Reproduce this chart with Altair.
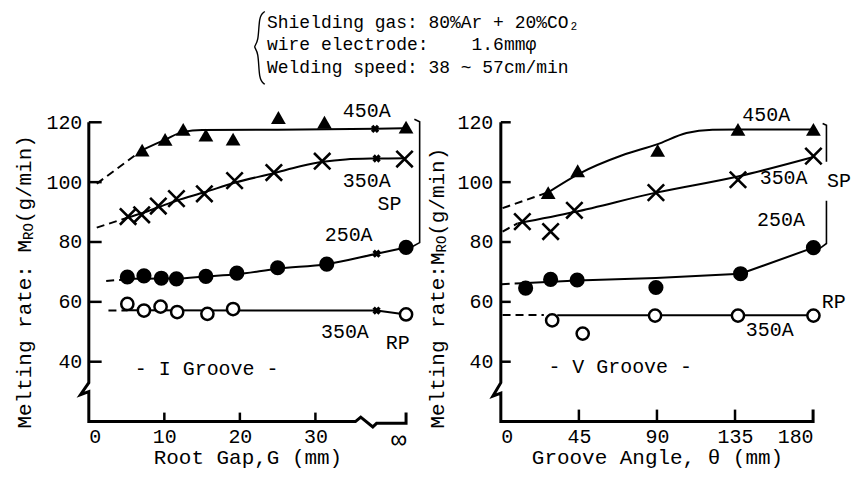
import altair as alt
import pandas as pd

FONT = "Liberation Mono"
NB = "\u00a0"

# ---------------- header (drawn in left panel's data space) ----------------
header_text = ["Shielding gas: 80%Ar + 20%CO₂",
               "wire electrode:" + NB * 4 + "1.6mmφ",
               "Welding speed: 38 ~ 57cm/min"]
header_x = [23.6, 23.6, 23.6]
header_y = [153.3, 145.7, 138.0]
brace_x = [23.3, 22.5, 22.5, 21.7, 22.5, 22.5, 23.3]
brace_y = [157.0, 155.6, 146.6, 145.2, 143.8, 134.1, 132.7]

# ---------------- left panel: I groove (x = root gap, 42 stands for ∞) ----------------
L_tri_x = [7.06, 10.1, 12.5, 15.5, 19.1, 25.1, 31.2, 42]
L_tri_y = [110.7, 114.3, 117.6, 115.7, 114.4, 121.6, 120.0, 118.4]
L_x_x = [5.2, 7.0, 9.2, 11.6, 15.3, 19.3, 24.5, 30.9, 41.8]
L_x_y = [88.5, 89.1, 92.0, 94.5, 96.1, 100.5, 103.2, 107.0, 107.7]
L_dot_x = [5.1, 7.3, 9.6, 11.6, 15.5, 19.6, 25.0, 31.5, 42]
L_dot_y = [68.3, 68.7, 67.9, 67.7, 68.5, 69.6, 71.4, 72.6, 78.2]
L_ring_x = [5.1, 7.3, 9.5, 11.7, 15.7, 19.1, 42]
L_ring_y = [59.3, 57.1, 58.4, 56.6, 56.0, 57.6, 55.8]
L_star_x = [37.9, 38.1, 38.1, 38.1]
L_star_y = [117.8, 107.9, 76.1, 57.1]

L_450_x = [7.06, 10.1, 12.5, 15.0, 25.0, 38.0, 42.0]
L_450_y = [110.7, 114.2, 116.8, 117.4, 117.5, 117.8, 118.0]
L_450d_x = [1.05, 7.06]
L_450d_y = [99.5, 110.7]
L_sp_x = [5.2, 7.0, 9.2, 11.6, 15.3, 19.3, 24.5, 28.0, 31.0, 34.0, 38.0, 42.0]
L_sp_y = [88.2, 89.6, 91.6, 93.8, 96.6, 99.8, 103.0, 105.3, 106.8, 107.6, 107.9, 108.0]
L_spd_x = [1.05, 5.2]
L_spd_y = [84.8, 88.2]
L_250_x = [5.1, 11.6, 15.5, 19.6, 25.0, 31.5, 38.1, 42.0]
L_250_y = [67.7, 67.8, 68.5, 69.2, 71.1, 72.6, 76.1, 78.2]
L_250d_x = [2.3, 5.1]
L_250d_y = [67.0, 67.5]
L_rp_x = [5.1, 38.1, 42.0]
L_rp_y = [57.2, 57.1, 55.8]
L_rpd_x = [2.6, 5.1]
L_rpd_y = [57.1, 57.1]

L_lab_t = ["450A", "350A", "SP", "250A", "350A", "RP", "- I Groove -"]
L_lab_x = [36.8, 36.8, 39.8, 34.4, 33.9, 40.9, 15.6]
L_lab_y = [123.7, 100.4, 92.8, 82.5, 50.0, 46.2, 37.5]
L_br_x = [43.1, 43.8, 43.8, 42.8]
L_br_y = [121.0, 120.2, 79.8, 78.4]
L_br_s = [0, 0, 0, 0]
L_axis_x = [0, 0, -1.1, 0, 0, 35.3, 36.0, 37.6, 38.1, 42, 42]
L_axis_y = [120, 33, 29.0, 30.0, 20, 20, 21.5, 18.2, 19.4, 19.4, 23]
L_xtick = [10, 20, 30]
L_title_t = ["Melting rate: M", "(g/min)"]
L_title_x = [-8.5, -8.5]
L_title_y = [17.7, 86.3]
L_sub_x = [-7.97]
L_sub_y = [80.7]

# ---------------- right panel: V groove (x = groove angle) ----------------
R_tri_x = [27.3, 44.3, 90.4, 136.7, 180.2]
R_tri_y = [96.5, 103.8, 110.6, 117.6, 117.6]
R_x_x = [12.4, 28.7, 42.4, 89.4, 136.7, 180.2]
R_x_y = [86.8, 83.5, 90.6, 96.5, 100.8, 108.7]
R_dot_x = [14.3, 28.7, 44.0, 89.4, 138.2, 180.2]
R_dot_y = [64.6, 67.5, 67.3, 64.8, 69.4, 78.1]
R_ring_x = [29.6, 47.2, 88.9, 136.7, 180.2]
R_ring_y = [53.8, 49.4, 55.4, 55.4, 55.4]

R_450_x = [27.3, 45, 70, 90, 107, 122, 137, 180]
R_450_y = [96.6, 102.8, 109.0, 112.6, 116.4, 117.5, 117.6, 117.6]
R_450d_x = [1.0, 27.3]
R_450d_y = [91.3, 96.6]
R_sp_x = [9.6, 42.4, 89.4, 136.7, 180.2]
R_sp_y = [86.2, 90.0, 96.5, 101.9, 108.4]
R_spd_x = [1.0, 9.6]
R_spd_y = [83.5, 86.2]
R_250_x = [12.0, 44.0, 89.4, 138.2, 180.2]
R_250_y = [66.2, 67.1, 68.0, 69.4, 78.1]
R_250d_x = [0.5, 12.0]
R_250d_y = [65.9, 66.2]
R_rp_x = [32.5, 180.2]
R_rp_y = [55.5, 55.5]
R_rpd_x = [1.0, 24.8]
R_rpd_y = [55.6, 55.6]

R_lab_t = ["450A", "350A", "250A", "350A", "- V Groove -"]
R_lab_x = [153, 163, 161.5, 155, 68.8]
R_lab_y = [122.5, 101.4, 87.3, 50.5, 38.1]
R_labl_t = ["SP", "RP"]
R_labl_x = [188.0, 185.0]
R_labl_y = [100.3, 60.0]
R_br_x = [185.5, 187.7, 187.7, 187.7, 187.7, 183.9]
R_br_y = [119.6, 119.0, 106.8, 93.8, 79.5, 77.9]
R_br_s = [0, 0, 0, 1, 1, 1]
R_axis_x = [0, 0, -4.6, 0, 0, 180, 180]
R_axis_y = [120, 33, 28.5, 29.5, 20, 20, 24]
R_xtick = [45, 90, 135]
R_title_t = ["Melting rate:M", "(g/min)"]
R_title_x = [-36.2, -36.2]
R_title_y = [17.7, 82.1]
R_sub_x = [-33.9]
R_sub_y = [76.5]

Y_TICKS = [40, 60, 80, 100, 120]


def pts(xs, ys):
    return pd.DataFrame({"x": xs, "y": ys})


def series(*items):
    rows = []
    for s, (xs, ys) in enumerate(items):
        for i, (a, b) in enumerate(zip(xs, ys)):
            rows.append({"s": s, "i": i, "x": a, "y": b})
    return pd.DataFrame(rows)


def panel(xdom, xvals, xexpr, xfs, xtitle, ylabpad, width, tick_len_y, tick_len_x,
          P, extra=None):
    xs = alt.Scale(domain=xdom, nice=False, zero=False)
    ys = alt.Scale(domain=[20, 120], nice=False, zero=False)
    xaxis = alt.Axis(values=xvals, labelExpr=xexpr, labelFontSize=xfs, title=xtitle,
                     labelPadding=5, minExtent=24, maxExtent=24, titlePadding=1)
    yaxis = alt.Axis(values=Y_TICKS, title=None, labelPadding=ylabpad)
    X = alt.X("x:Q", scale=xs, axis=xaxis)
    Y = alt.Y("y:Q", scale=ys, axis=yaxis)

    layers = []
    ax = pd.DataFrame({"x": P["axis_x"], "y": P["axis_y"], "i": range(len(P["axis_x"]))})
    layers.append(alt.Chart(ax).mark_line(color="black", strokeWidth=3).encode(
        x=X, y=Y, order="i:Q"))
    yt = pd.DataFrame({"y": Y_TICKS, "x": [0] * 5, "x2": [tick_len_y] * 5})
    layers.append(alt.Chart(yt).mark_rule(color="black", strokeWidth=2.5).encode(
        x=X, x2="x2:Q", y=Y))
    xt = pd.DataFrame({"x": P["xtick"], "y": [20] * len(P["xtick"]),
                       "y2": [20 + tick_len_x] * len(P["xtick"])})
    layers.append(alt.Chart(xt).mark_rule(color="black", strokeWidth=2.5).encode(
        x=X, y=Y, y2="y2:Q"))
    layers.append(alt.Chart(P["smooth"]).mark_line(
        color="black", strokeWidth=2, interpolate="monotone").encode(
        x=X, y=Y, detail="s:N", order="i:Q"))
    layers.append(alt.Chart(P["straight"]).mark_line(
        color="black", strokeWidth=2).encode(x=X, y=Y, detail="s:N", order="i:Q"))
    layers.append(alt.Chart(P["dashed"]).mark_line(
        color="black", strokeWidth=2, strokeDash=[8, 5]).encode(
        x=X, y=Y, detail="s:N", order="i:Q"))
    layers.append(alt.Chart(P["tri"]).mark_point(
        shape="triangle-up", filled=True, color="black", size=220, opacity=1).encode(x=X, y=Y))
    layers.append(alt.Chart(P["cross"]).mark_point(
        shape="M-1,-1L1,1M-1,1L1,-1", filled=False, color="black", size=270,
        strokeWidth=2.6, opacity=1).encode(x=X, y=Y))
    layers.append(alt.Chart(P["dot"]).mark_circle(
        color="black", size=230, opacity=1).encode(x=X, y=Y))
    layers.append(alt.Chart(P["ring"]).mark_point(
        shape="circle", filled=True, fill="white", stroke="black", strokeWidth=2.5,
        size=150, opacity=1).encode(x=X, y=Y))
    if "star" in P:
        layers.append(alt.Chart(P["star"]).mark_point(
            shape="cross", filled=True, color="black", size=70, angle=45,
            opacity=1).encode(x=X, y=Y))
    br = pd.DataFrame({"x": P["br_x"], "y": P["br_y"], "s": P["br_s"],
                       "i": range(len(P["br_x"]))})
    layers.append(alt.Chart(br).mark_line(color="black", strokeWidth=1.6).encode(
        x=X, y=Y, detail="s:N", order="i:Q"))
    lab = pd.DataFrame({"x": P["lab_x"], "y": P["lab_y"], "t": P["lab_t"]})
    layers.append(alt.Chart(lab).mark_text(
        font=FONT, fontSize=20, align="center", baseline="middle", color="black").encode(
        x=X, y=Y, text="t:N"))
    if "labl_t" in P:
        labl = pd.DataFrame({"x": P["labl_x"], "y": P["labl_y"], "t": P["labl_t"]})
        layers.append(alt.Chart(labl).mark_text(
            font=FONT, fontSize=20, align="left", baseline="middle", color="black").encode(
            x=X, y=Y, text="t:N"))
    tt = pd.DataFrame({"x": P["title_x"], "y": P["title_y"], "t": P["title_t"]})
    layers.append(alt.Chart(tt).mark_text(
        font=FONT, fontSize=21, angle=270, align="left", baseline="middle",
        color="black").encode(x=X, y=Y, text="t:N"))
    st = pd.DataFrame({"x": P["sub_x"], "y": P["sub_y"], "t": ["RO"]})
    layers.append(alt.Chart(st).mark_text(
        font=FONT, fontSize=14, angle=270, align="left", baseline="middle",
        color="black").encode(x=X, y=Y, text="t:N"))
    if extra is not None:
        layers.extend(extra(X, Y))
    return alt.layer(*layers).properties(width=width, height=300)


def header_layers(X, Y):
    h = pd.DataFrame({"x": header_x, "y": header_y, "t": header_text})
    b = pd.DataFrame({"x": brace_x, "y": brace_y, "i": range(len(brace_x))})
    return [
        alt.Chart(b).mark_line(color="black", strokeWidth=1.4, interpolate="basis").encode(
            x=X, y=Y, order="i:Q"),
        alt.Chart(h).mark_text(font=FONT, fontSize=18, align="left", baseline="middle",
                               color="black").encode(x=X, y=Y, text="t:N"),
    ]


PL = dict(
    axis_x=L_axis_x, axis_y=L_axis_y, xtick=L_xtick,
    smooth=series((L_450_x, L_450_y), (L_sp_x, L_sp_y), (L_250_x, L_250_y)),
    straight=series((L_rp_x, L_rp_y)),
    dashed=series((L_450d_x, L_450d_y), (L_spd_x, L_spd_y), (L_250d_x, L_250d_y),
                  (L_rpd_x, L_rpd_y)),
    tri=pts(L_tri_x, L_tri_y), cross=pts(L_x_x, L_x_y), dot=pts(L_dot_x, L_dot_y),
    ring=pts(L_ring_x, L_ring_y), star=pts(L_star_x, L_star_y),
    br_x=L_br_x, br_y=L_br_y, br_s=L_br_s,
    lab_x=L_lab_x, lab_y=L_lab_y, lab_t=L_lab_t,
    title_x=L_title_x, title_y=L_title_y, title_t=L_title_t,
    sub_x=L_sub_x, sub_y=L_sub_y,
)
PR = dict(
    axis_x=R_axis_x, axis_y=R_axis_y, xtick=R_xtick,
    smooth=series((R_450_x, R_450_y), (R_sp_x, R_sp_y)),
    straight=series((R_250_x, R_250_y), (R_rp_x, R_rp_y)),
    dashed=series((R_450d_x, R_450d_y), (R_spd_x, R_spd_y), (R_250d_x, R_250d_y),
                  (R_rpd_x, R_rpd_y)),
    tri=pts(R_tri_x, R_tri_y), cross=pts(R_x_x, R_x_y), dot=pts(R_dot_x, R_dot_y),
    ring=pts(R_ring_x, R_ring_y),
    br_x=R_br_x, br_y=R_br_y, br_s=R_br_s,
    lab_x=R_lab_x, lab_y=R_lab_y, lab_t=R_lab_t,
    labl_x=R_labl_x, labl_y=R_labl_y, labl_t=R_labl_t,
    title_x=R_title_x, title_y=R_title_y, title_t=R_title_t,
    sub_x=R_sub_x, sub_y=R_sub_y,
)

left = panel([0, 42], [0, 10, 20, 30, 42],
             "datum.value == 42 ? '∞' : datum.label",
             {"condition": {"test": "datum.value == 42", "value": 26}, "value": 20},
             "Root Gap,G (mm)", 7, 318, 1.7, 3.0, PL, extra=header_layers)
right = panel([0, 180], [0, 45, 90, 135, 180], alt.Undefined, 20,
              "Groove Angle, θ (mm)", 8, 313, 5.7, 4.0, PR)

chart = alt.hconcat(left, right, spacing=95, bounds="flush").properties(
    padding={"left": 5, "top": 0, "right": 0, "bottom": 6},
    background="white",
).configure_view(stroke=None).configure_axis(
    grid=False, domain=False, ticks=False,
    labelFont=FONT, labelFontSize=20, labelColor="black",
    titleFont=FONT, titleFontSize=21, titleColor="black", titleFontWeight="normal",
)

chart.save("out.html", embed_options={"renderer": "svg", "actions": False})
